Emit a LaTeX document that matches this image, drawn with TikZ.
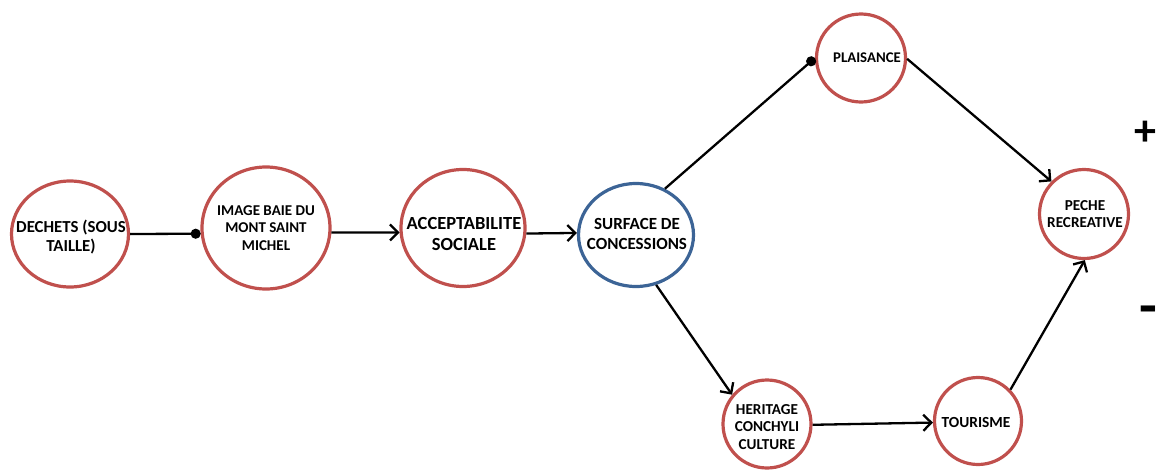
\documentclass[tikz,border=0pt]{standalone}
\usepackage{fontspec}
\setmainfont{Carlito}
\usetikzlibrary{shapes.geometric,arrows.meta}
\definecolor{nodered}{HTML}{C0504D}
\definecolor{nodeblue}{HTML}{3C6496}
\begin{document}
\begin{tikzpicture}[x=1pt,y=-1pt,
  ell/.style={ellipse,draw=nodered,line width=3.2pt,inner sep=0pt,fill=white},
  bell/.style={ellipse,draw=nodeblue,line width=3.2pt,inner sep=0pt,fill=white},
  txt/.style={align=center,inner sep=0pt,font=\bfseries\fontsize{#1}{#1}\linespread{1.17}\selectfont},
  arr/.style={line width=2.3pt,-{Straight Barb[length=8pt,width=16pt]}},
  dotc/.style={line width=2.3pt,-{Circle[length=10pt]}},
  sign/.style={inner sep=0pt,font=\bfseries\fontsize{#1}{#1}\selectfont}
]
\useasboundingbox (0,0) rectangle (1159,469);
\node[ell,minimum width=117pt,minimum height=106pt] (dech) at (70,234) {};
\node[ell,minimum width=128pt,minimum height=122pt] (img) at (266,228) {};
\node[ell,minimum width=124pt,minimum height=117pt] (acc) at (463,228) {};
\node[bell,minimum width=115pt,minimum height=103pt] (surf) at (636,235) {};
\node[ell,minimum width=89pt,minimum height=88pt] (plais) at (861,58) {};
\node[ell,minimum width=89pt,minimum height=89pt] (pech) at (1084,214) {};
\node[ell,minimum width=88pt,minimum height=88pt] (herit) at (767,424) {};
\node[ell,minimum width=87pt,minimum height=87pt] (tour) at (978,421) {};

\node[txt=16.8] (tdech) at (71,237) {DECHETS (SOUS\\TAILLE)};
\node[txt=15] (timg) at (266,228) {IMAGE BAIE DU\\MONT SAINT\\MICHEL};
\node[txt=18.5] (tacc) at (464,234) {ACCEPTABILITE\\SOCIALE};
\node[txt=17] (tsurf) at (637,234) {SURFACE DE\\CONCESSIONS};
\node[txt=14.8] (tplais) at (867,58) {PLAISANCE};
\node[txt=15.2] (tpech) at (1085,214) {PECHE\\RECREATIVE};
\node[txt=15.2] (therit) at (767,427) {HERITAGE\\CONCHYLI\\CULTURE};
\node[txt=15.4] (ttour) at (976,422) {TOURISME};

\node[sign=44] (plus) at (1145,133) {+};
\node[sign=58] (minus) at (1148,316) {-};

\draw[dotc] (dech.east) -- (img.185);
\draw[arr] (img.356) -- (acc.184);
\draw[arr] (acc.355.5) -- (surf.178);
\draw[dotc] (surf.58) -- (plais.180);
\draw[arr] (plais.359) -- (pech.135);
\draw[arr] (surf.292) -- (herit.140);
\draw[arr] (herit.359) -- (tour.182.5);
\draw[arr] (tour.44) -- (pech.271);
\end{tikzpicture}
\end{document}
